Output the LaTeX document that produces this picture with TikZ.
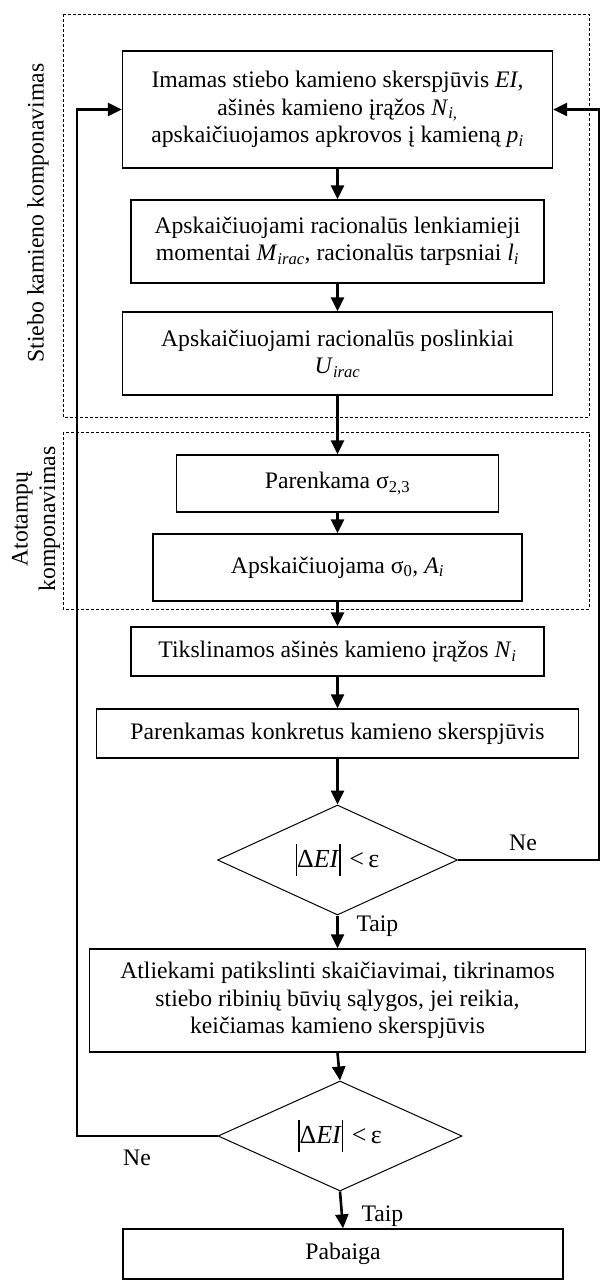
\documentclass[tikz,border=0pt]{standalone}
\usepackage{fontspec}
\setmainfont{Liberation Serif}
\usetikzlibrary{arrows.meta,shapes.geometric}
\newcommand{\itx}[1]{\textit{#1}}
\newcommand{\sbs}[1]{\textsubscript{\textit{#1}}}
\newcommand{\absbar}{\rule[-0.3em]{0.05em}{1.2em}}
\begin{document}
\begin{tikzpicture}[x=1pt,y=-1pt,
  txt/.style={font=\fontsize{23.7}{27.5}\selectfont},
  proc/.style={txt,draw,line width=1.3pt,inner sep=0pt,align=center},
  dec/.style={font=\fontsize{26}{30}\selectfont,draw,diamond,line width=1pt,inner sep=0pt,aspect=2.2},
  grp/.style={draw,line width=0.8pt,dash pattern=on 3pt off 2pt},
  arr/.style={line width=2.6pt,-{Triangle[length=14pt,width=13pt]}},
  fb/.style={line width=2.6pt,-{Triangle[length=14pt,width=13pt]}}]
\useasboundingbox (0,0) rectangle (601,1282);
% group boxes
\draw[grp] (63,14) rectangle (589,417);
\draw[grp] (63,432) rectangle (589,609);
\node[txt,rotate=90] (g1) at (38,213) {Stiebo kamieno komponavimas};
\node[txt,rotate=90,align=center] (g2) at (36,519) {Atotampų\\komponavimas};
% process boxes
\node[proc,minimum width=430pt,minimum height=117pt] (b1) at (337.5,109.5)
  {Imamas stiebo kamieno skerspjūvis \itx{EI},\\ašinės kamieno įrąžos \itx{N}\textsubscript{\textit{i,}}\\apskaičiuojamos apkrovos į kamieną \itx{p}\sbs{i}};
\node[proc,minimum width=413pt,minimum height=83pt] (b2) at (337.5,241.5)
  {Apskaičiuojami racionalūs lenkiamieji\\momentai \itx{M}\sbs{irac}, racionalūs tarpsniai \itx{l}\sbs{i}};
\node[proc,minimum width=430pt,minimum height=83pt] (b3) at (337.5,353.5)
  {Apskaičiuojami racionalūs poslinkiai\\\itx{U}\sbs{irac}};
\node[proc,minimum width=322pt,minimum height=57pt] (b4) at (337.5,483.5)
  {Parenkama σ\textsubscript{2,3}};
\node[proc,minimum width=369pt,minimum height=67pt] (b5) at (337.5,567.5)
  {Apskaičiuojama σ\textsubscript{0}, \itx{A}\sbs{i}};
\node[proc,minimum width=413pt,minimum height=49pt] (b6) at (337.5,651.5)
  {Tikslinamos ašinės kamieno įrąžos \itx{N}\sbs{i}};
\node[proc,minimum width=482pt,minimum height=49pt] (b7) at (337.5,733.5)
  {Parenkamas konkretus kamieno skerspjūvis};
\node[dec,minimum width=240pt,minimum height=110pt] (d1) at (337.5,860)
  {\absbar Δ\itx{EI}\absbar\,\,<\,ε};
\node[proc,minimum width=496pt,minimum height=103pt] (b8) at (337.5,1000.5)
  {Atliekami patikslinti skaičiavimai, tikrinamos\\stiebo ribinių būvių sąlygos, jei reikia,\\keičiamas kamieno skerspjūvis};
\node[dec,minimum width=244pt,minimum height=110pt] (d2) at (340,1136)
  {\absbar Δ\itx{EI}\absbar\,\,<\,ε};
\node[proc,minimum width=440pt,minimum height=50pt] (b9) at (343,1254)
  {Pabaiga};
% labels
\node[txt] (ne1) at (523,843) {Ne};
\node[txt,anchor=west] (ta1) at (353,926) {Taip};
\node[txt] (ne2) at (137,1158) {Ne};
\node[txt,anchor=west] (ta2) at (358,1216) {Taip};
% arrows
\draw[arr] (b1) -- (b2);
\draw[arr] (b2) -- (b3);
\draw[arr] (b3) -- (b4);
\draw[arr] (b4) -- (b5);
\draw[arr] (b5) -- (b6);
\draw[arr] (b6) -- (b7);
\draw[arr] (b7) -- (d1);
\draw[arr] (d1.south) -- (b8.north -| d1.south);
\draw[arr] (b8.south -| d1.south) -- (d2.north);
\draw[arr] (d2.south) -- (b9.north);
% feedback
\coordinate (rtop) at (599,109.5);
\coordinate (ltop) at (77,109.5);
\draw[fb] (d1.east) -| (rtop) -- (b1.east);
\draw[fb] (d2.west) -| (ltop) -- (b1.west);
\end{tikzpicture}
\end{document}
